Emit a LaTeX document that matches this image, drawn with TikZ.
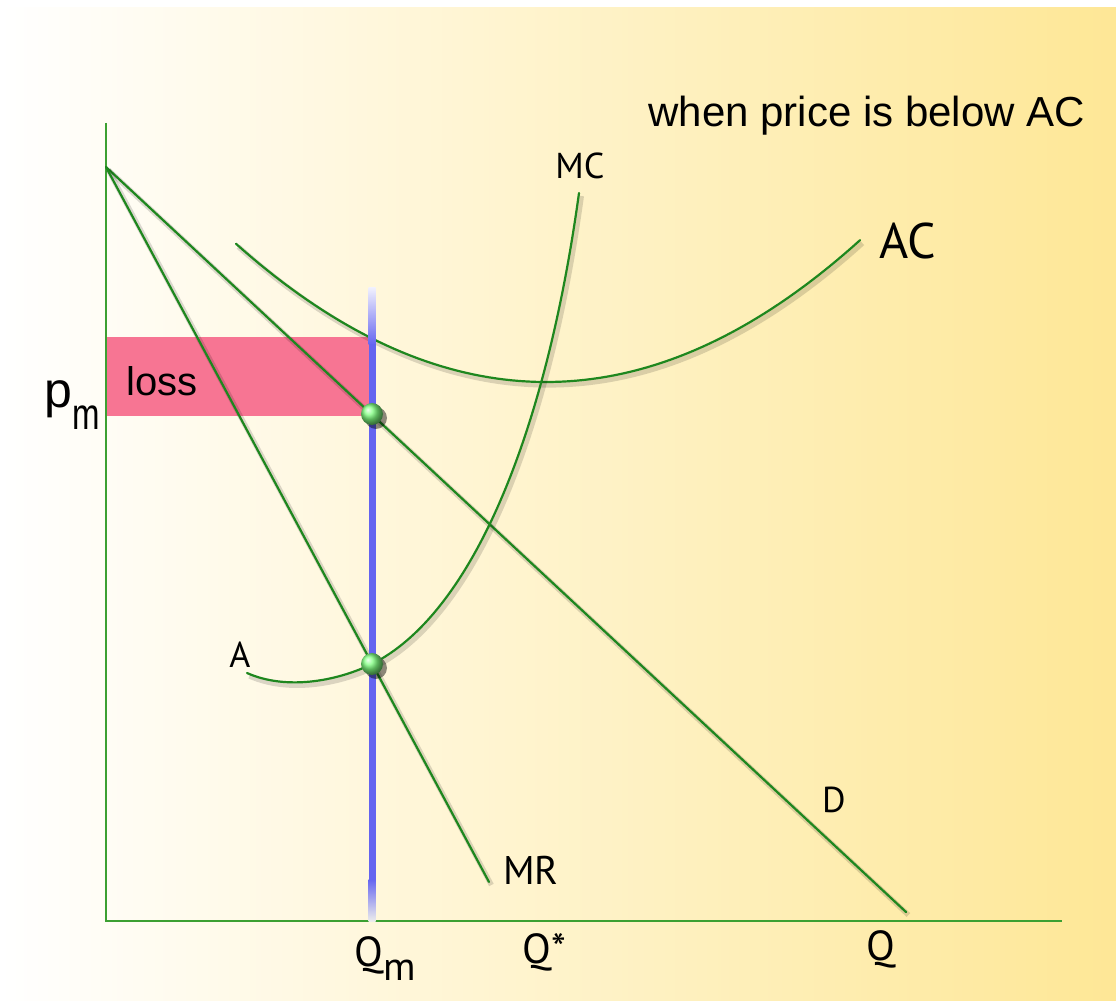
\documentclass[tikz,border=0pt]{standalone}
\usepackage{fontspec}
\setmainfont{Liberation Sans}
\newfontfamily\labelfont{PT Sans}
\usetikzlibrary{positioning,shadings}
\definecolor{axgreen}{RGB}{60,160,50}
\definecolor{cvgreen}{RGB}{30,135,30}
\definecolor{bgyellow}{RGB}{254,231,150}
\definecolor{losspink}{RGB}{247,117,147}
\definecolor{qmblue}{RGB}{100,100,240}
\begin{document}
\begin{tikzpicture}[x=0.5pt,y=-0.5pt,
  axis/.style={axgreen,line width=1.3pt},
  curve/.style={cvgreen,line width=1.1pt,line cap=round,
    preaction={draw=black,opacity=0.14,line width=2.6pt,transform canvas={xshift=1.2pt,yshift=-1.5pt}}},
  lbl/.style={font=\labelfont\fontsize{18}{18}\selectfont,inner sep=0pt},
  biglbl/.style={font=\labelfont\fontsize{21}{21}\selectfont,inner sep=0pt},
  txt/.style={inner sep=0pt,anchor=base west},
  dot/.style={ball color=green!50!white}]
  \useasboundingbox (0,0) rectangle (1116,1006);
  % background
  \shade[left color=white,right color=bgyellow] (0,8) rectangle (1116,1000);
  % loss area
  \fill[losspink] (106,337) rectangle (372,416);
  \node[txt,font=\fontsize{20}{20}\selectfont] (loss) at (126,395) {loss};
  % axes
  \coordinate (o) at (106,921);
  \coordinate (ytop) at (106,123);
  \coordinate (xend) at (1062,921);
  \draw[axis] (ytop) -- (o) -- (xend);
  % demand and marginal revenue
  \coordinate (pmax) at (106,167);
  \coordinate (dend) at (906,912);
  \coordinate (mrend) at (489,882);
  \draw[curve] (pmax) -- (dend);
  \draw[curve] (pmax) -- (mrend);
  % average cost
  \draw[curve] plot[domain=236:860,samples=80] (\x,{382-140*((\x-546)/312)^2});
  % marginal cost
  \coordinate (mcstart) at (247,673);
  \coordinate (mcq) at (372,664);
  \coordinate (mcend) at (579,193);
  \draw[curve] (mcstart) .. controls (285,690) and (335,682) .. (mcq)
    .. controls (470,615) and (545,440) .. (mcend);
  % output Qm
  \shade[top color=qmblue!10,bottom color=qmblue] (368.5,288) rectangle (375.5,345);
  \fill[qmblue] (368.5,344) rectangle (375.5,880);
  \shade[top color=qmblue,bottom color=gray!15] (368.5,879) rectangle (375.5,921);
  % points
  \fill[black,opacity=0.45] (376,418) circle[radius=5.5pt];
  \shade[dot] (372,414) circle[radius=5.5pt];
  \fill[black,opacity=0.45] (376,668) circle[radius=5.5pt];
  \shade[dot] (372,664) circle[radius=5.5pt];
  % labels
  \node[txt,font=\fontsize{21}{21}\selectfont] (title) at (648,127) {when price is below AC};
  \node[lbl] (mc) at (580,166) {MC};
  \node[biglbl,font=\labelfont\fontsize{25}{25}\selectfont] (ac) at (908,241) {AC};
  \node[lbl] (a) at (240,655) {A};
  \node[biglbl,font=\labelfont\fontsize{20}{20}\selectfont] (mr) at (531,870) {MR};
  \node[lbl] (d) at (834,800) {D};
  \node[txt,font=\fontsize{25}{25}\selectfont] (pm) at (44,408)
    {p\raisebox{-11pt}{\fontsize{22}{22}\selectfont\scalebox{0.75}[1]{m}}};
  \node[txt,font=\labelfont\fontsize{21}{21}\selectfont] (qm) at (354,966)
    {Q\raisebox{-7pt}{\fontsize{20}{20}\selectfont m}};
  \node[txt,font=\labelfont\fontsize{21}{21}\selectfont] (qstar) at (522,963) {Q*};
  \node[txt,font=\labelfont\fontsize{21}{21}\selectfont] (q) at (866,960) {Q};
\end{tikzpicture}
\end{document}
